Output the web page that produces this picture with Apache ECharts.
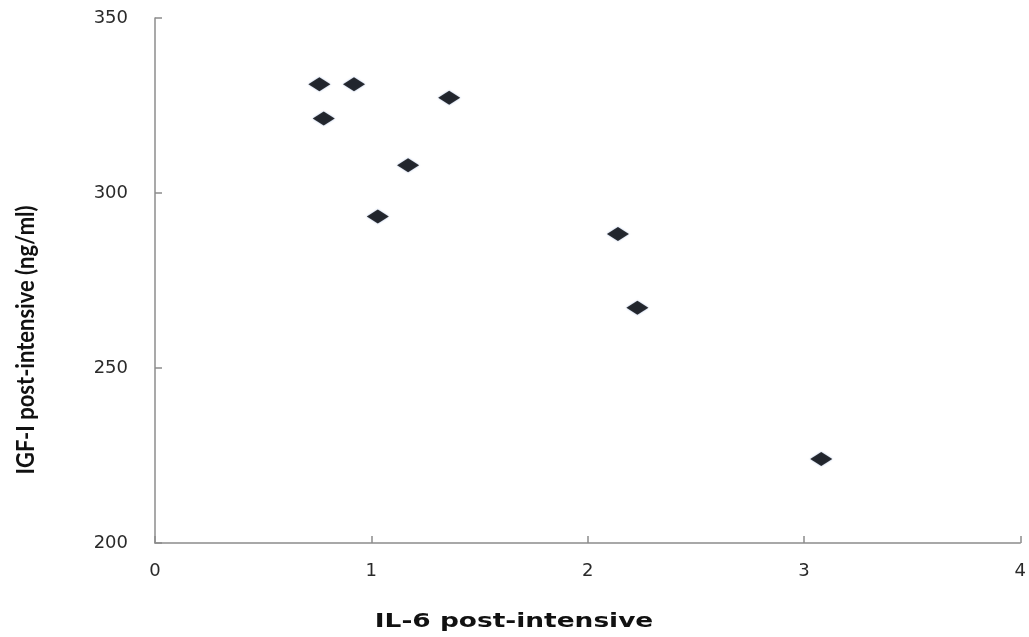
<!DOCTYPE html>
<html>
<head>
<meta charset="utf-8">
<script src="https://cdn.jsdelivr.net/npm/echarts@6/dist/echarts.min.js"></script>
<style>html,body{margin:0;padding:0;background:#fff}#c{width:1029px;height:637px}</style>
</head>
<body>
<div id="c"></div>
<script>
const il6 = [0.76, 0.92, 0.78, 1.36, 1.17, 1.03, 2.14, 2.23, 3.08];
const igf1 = [331.1, 331.1, 321.3, 327.2, 307.9, 293.3, 288.3, 267.2, 224.0];
const xTitle = 'IL-6 post-intensive';
const yTitle = 'IGF-I post-intensive (ng/ml)';

const points = il6.map((x, i) => [x, igf1[i]]);
const chart = echarts.init(document.getElementById('c'), null, {renderer: 'canvas'});
chart.setOption({
  animation: false,
  backgroundColor: '#fff',
  grid: {left: 155, right: 4, top: 18, bottom: 94, containLabel: false},
  xAxis: {
    type: 'value', min: 0, max: 4, interval: 1,
    axisLine: {show: true, lineStyle: {color: '#8c8c8c', width: 1.5}},
    axisTick: {show: true, inside: true, length: 7, lineStyle: {color: '#8c8c8c', width: 1.5}},
    axisLabel: {fontFamily: 'DejaVu Sans', fontSize: 18, color: '#2a2a2a', margin: 19},
    splitLine: {show: false}
  },
  yAxis: {
    type: 'value', min: 200, max: 350, interval: 50,
    axisLine: {show: true, lineStyle: {color: '#8c8c8c', width: 1.5}},
    axisTick: {show: true, inside: true, length: 7, lineStyle: {color: '#8c8c8c', width: 1.5}},
    axisLabel: {fontFamily: 'DejaVu Sans', fontSize: 18, color: '#2a2a2a', margin: 27},
    splitLine: {show: false}
  },
  graphic: [
    {
      type: 'text', x: 514, y: 622, scaleX: 1.32,
      style: {text: xTitle, font: 'bold 20px "DejaVu Sans"', fill: '#111', align: 'center', verticalAlign: 'middle'}
    },
    {
      type: 'text', x: 26, y: 340, rotation: Math.PI / 2, scaleY: 1.15,
      style: {text: yTitle, font: 'bold 22px Lato', fill: '#111', align: 'center', verticalAlign: 'middle'}
    }
  ],
  series: [{
    type: 'scatter',
    data: points,
    symbol: 'diamond',
    symbolSize: [22, 14],
    itemStyle: {color: '#000', shadowBlur: 2, shadowColor: 'rgba(70,110,190,0.6)'}
  }]
});
</script>
</body>
</html>
